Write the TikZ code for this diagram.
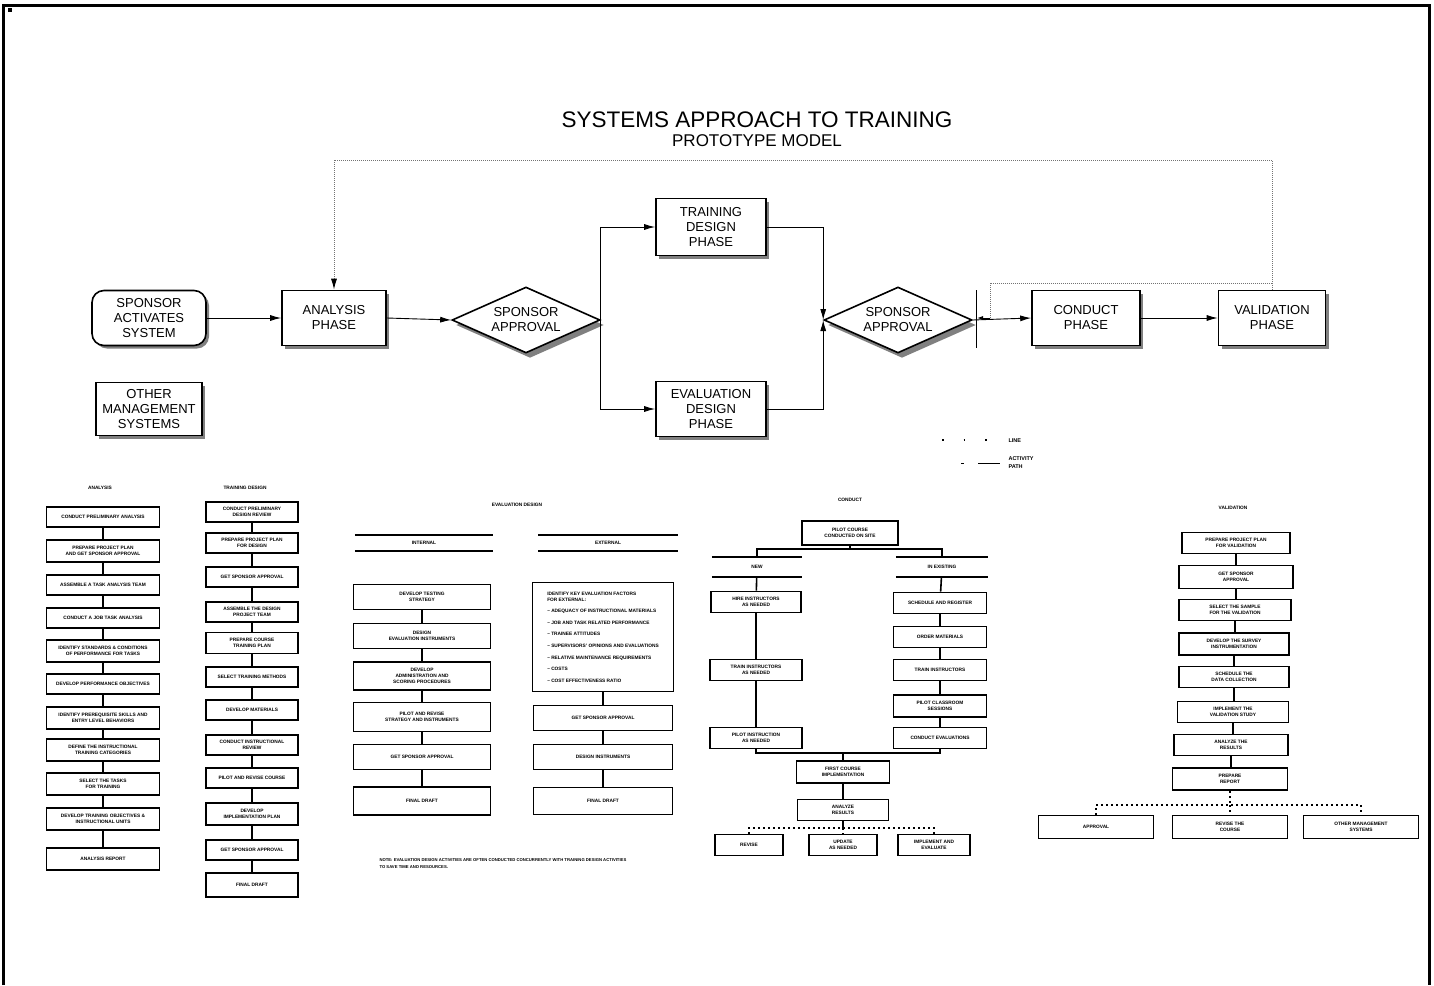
\documentclass[tikz,border=0pt]{standalone}
\usepackage{fontspec}
\setmainfont{Liberation Sans}
\usetikzlibrary{shapes.geometric,shadows,arrows.meta}
\tikzset{>={Latex[length=11pt,width=6pt]}}
\tikzset{
  phasebox/.style={draw,line width=1.6pt,fill=white,align=center,inner sep=2pt,
    font=\fontsize{13}{15}\selectfont,
    drop shadow={shadow xshift=3pt,shadow yshift=-3pt,opacity=1}},
  startbox/.style={phasebox,rounded corners=12pt},
  approval/.style={diamond,draw,line width=1.6pt,fill=white,align=center,inner sep=0pt,
    aspect=2.2,minimum width=148pt,minimum height=66pt,
    font=\fontsize{13}{15}\selectfont,
    drop shadow={shadow xshift=4pt,shadow yshift=-5pt,opacity=1}},
  flowline/.style={line width=0.9pt},
  fbline/.style={line width=1pt,black!55,densely dotted},
  stepbox/.style={draw,line width=1.7pt,fill=white,align=center,inner sep=1pt,
    font=\fontsize{4.8}{5.8}\selectfont\bfseries},
  stepline/.style={line width=1.6pt},
  steptitle/.style={font=\fontsize{4.8}{5.8}\selectfont\bfseries},
  stephead/.style={steptitle,minimum height=16pt},
  dashline/.style={line width=1.3pt,dash pattern=on 2pt off 3pt},
  legtext/.style={font=\fontsize{5.5}{8}\selectfont\bfseries,align=left,anchor=west}
}

\begin{document}
\begin{tikzpicture}[x=1pt,y=-1pt]
            \useasboundingbox (0,0) rectangle (1434,985);
            \draw[line width=3pt] (3.5,985) -- (3.5,5.5) -- (1429,5.5) -- (1429,985);
            \fill (8,8) rectangle (12,12);

            \node[font=\fontsize{22.5}{26}\selectfont] (title) at (757,120) {SYSTEMS APPROACH TO TRAINING};
            \node[font=\fontsize{17}{20}\selectfont] (subtitle) at (757,141) {PROTOTYPE MODEL};

            \node[startbox,minimum width=114,minimum height=55] (sponsor) at (149,318) {SPONSOR\\ACTIVATES\\SYSTEM};
            \node[phasebox,minimum width=104,minimum height=55] (analysis) at (334,318) {ANALYSIS\\PHASE};
            \node[approval] (approveA) at (526,320) {SPONSOR\\APPROVAL};
            \node[phasebox,minimum width=110,minimum height=57] (trdesign) at (711,227) {TRAINING\\DESIGN\\PHASE};
            \node[phasebox,minimum width=110,minimum height=55] (evdesign) at (711,409) {EVALUATION\\DESIGN\\PHASE};
            \node[approval] (approveB) at (898,320) {SPONSOR\\APPROVAL};
            \node[phasebox,minimum width=108,minimum height=55] (conduct) at (1086,318) {CONDUCT\\PHASE};
            \node[phasebox,minimum width=107,minimum height=55] (validation) at (1272,318) {VALIDATION\\PHASE};
            \node[phasebox,minimum width=106,minimum height=53] (othermgmt) at (149,409) {OTHER\\MANAGEMENT\\SYSTEMS};

            \coordinate (fbtop) at (0,160);
            \coordinate (fbjoin) at (1272,283);
            \coordinate (fbreturn) at (990,318);
            \coordinate (gateT) at (976,290);
            \coordinate (gateB) at (976,348);
            \coordinate (gateM) at (977,318);

            \draw[flowline,->] (sponsor) -- (analysis);
            \draw[flowline,->] (analysis.east) -- (approveA.west);
            \draw[flowline,->] (approveA.east) |- (trdesign.west);
            \draw[flowline,->] (approveA.east) |- (evdesign.west);
            \draw[flowline,->] (trdesign.east) -| (approveB.west);
            \draw[flowline,->] (evdesign.east) -| (approveB.west);
            \draw[flowline] (gateT) -- (gateB);
            \draw[flowline,->] (approveB.east) -- (conduct.west);
            \draw[flowline,->] (conduct) -- (validation);
            \draw[fbline,-{Latex[length=11pt,width=6pt,color=black]}] (validation.north) -- (validation.north |- fbtop) -| (analysis.north);
            \draw[fbline] (fbjoin) -| (fbreturn);
            \draw[flowline,-{Latex[length=6pt,width=4pt]}] (fbreturn) -- (gateM);

            \draw[line width=1.2pt,dash pattern=on 1.5pt off 20pt] (942,440) -- (990,440);
            \node[legtext] (legline) at (1005,441) {LINE};
            \draw[line width=1pt] (961,463) -- (964,463);
            \draw[line width=1pt] (978,463) -- (1000,463);
            \node[legtext] (legpath) at (1005,463) {ACTIVITY\\PATH};

            \node[steptitle] (anltitle) at (100,488) {ANALYSIS};
            \node[stepbox,minimum width=113,minimum height=20] (a1) at (103,517) {CONDUCT PRELIMINARY ANALYSIS};
            \node[stepbox,minimum width=113,minimum height=22] (a2) at (103,551) {PREPARE PROJECT PLAN\\AND GET SPONSOR APPROVAL};
            \node[stepbox,minimum width=113,minimum height=20] (a3) at (103,585) {ASSEMBLE A TASK ANALYSIS TEAM};
            \node[stepbox,minimum width=113,minimum height=20] (a4) at (103,618) {CONDUCT A JOB TASK ANALYSIS};
            \node[stepbox,minimum width=113,minimum height=22] (a5) at (103,651) {IDENTIFY STANDARDS \& CONDITIONS\\OF PERFORMANCE FOR TASKS};
            \node[stepbox,minimum width=113,minimum height=20] (a6) at (103,684) {DEVELOP PERFORMANCE OBJECTIVES};
            \node[stepbox,minimum width=113,minimum height=22] (a7) at (103,718) {IDENTIFY PREREQUISITE SKILLS AND\\ENTRY LEVEL BEHAVIORS};
            \node[stepbox,minimum width=113,minimum height=22] (a8) at (103,750) {DEFINE THE INSTRUCTIONAL\\TRAINING CATEGORIES};
            \node[stepbox,minimum width=113,minimum height=22] (a9) at (103,784) {SELECT THE TASKS\\FOR TRAINING};
            \node[stepbox,minimum width=113,minimum height=22] (a10) at (103,819) {DEVELOP TRAINING OBJECTIVES \&\\INSTRUCTIONAL UNITS};
            \node[stepbox,minimum width=113,minimum height=22] (a11) at (103,859) {ANALYSIS REPORT};

            \draw[stepline] (a1) -- (a2);
            \draw[stepline] (a2) -- (a3);
            \draw[stepline] (a3) -- (a4);
            \draw[stepline] (a4) -- (a5);
            \draw[stepline] (a5) -- (a6);
            \draw[stepline] (a6) -- (a7);
            \draw[stepline] (a7) -- (a8);
            \draw[stepline] (a8) -- (a9);
            \draw[stepline] (a9) -- (a10);
            \draw[stepline] (a10) -- (a11);

            \node[steptitle] (trntitle) at (245,488) {TRAINING DESIGN};
            \node[stepbox,minimum width=92,minimum height=20] (t1) at (252,512) {CONDUCT PRELIMINARY\\DESIGN REVIEW};
            \node[stepbox,minimum width=92,minimum height=20] (t2) at (252,543) {PREPARE PROJECT PLAN\\FOR DESIGN};
            \node[stepbox,minimum width=92,minimum height=20] (t3) at (252,577) {GET SPONSOR APPROVAL};
            \node[stepbox,minimum width=92,minimum height=20] (t4) at (252,612) {ASSEMBLE THE DESIGN\\PROJECT TEAM};
            \node[stepbox,minimum width=92,minimum height=21] (t5) at (252,643) {PREPARE COURSE\\TRAINING PLAN};
            \node[stepbox,minimum width=92,minimum height=20] (t6) at (252,677) {SELECT TRAINING METHODS};
            \node[stepbox,minimum width=92,minimum height=20] (t7) at (252,710) {DEVELOP MATERIALS};
            \node[stepbox,minimum width=92,minimum height=20] (t8) at (252,745) {CONDUCT INSTRUCTIONAL\\REVIEW};
            \node[stepbox,minimum width=92,minimum height=20] (t9) at (252,778) {PILOT AND REVISE COURSE};
            \node[stepbox,minimum width=92,minimum height=22] (t10) at (252,814) {DEVELOP\\IMPLEMENTATION PLAN};
            \node[stepbox,minimum width=92,minimum height=20] (t11) at (252,850) {GET SPONSOR APPROVAL};
            \node[stepbox,minimum width=92,minimum height=24] (t12) at (252,885) {FINAL DRAFT};

            \draw[stepline] (t1) -- (t2);
            \draw[stepline] (t2) -- (t3);
            \draw[stepline] (t3) -- (t4);
            \draw[stepline] (t4) -- (t5);
            \draw[stepline] (t5) -- (t6);
            \draw[stepline] (t6) -- (t7);
            \draw[stepline] (t7) -- (t8);
            \draw[stepline] (t8) -- (t9);
            \draw[stepline] (t9) -- (t10);
            \draw[stepline] (t10) -- (t11);
            \draw[stepline] (t11) -- (t12);

            \node[steptitle] (evltitle) at (517,505) {EVALUATION DESIGN};
            \node[stephead,minimum width=138] (inthead) at (424,543) {INTERNAL};
            \draw[stepline] (inthead.north west) -- (inthead.north east);
            \draw[stepline] (inthead.south west) -- (inthead.south east);
            \node[stephead,minimum width=139] (exthead) at (608,543) {EXTERNAL};
            \draw[stepline] (exthead.north west) -- (exthead.north east);
            \draw[stepline] (exthead.south west) -- (exthead.south east);

            \node[stepbox,minimum width=137,minimum height=25] (e1) at (422,597) {DEVELOP TESTING\\STRATEGY};
            \node[stepbox,minimum width=137,minimum height=25] (e2) at (422,636) {DESIGN\\EVALUATION INSTRUMENTS};
            \node[stepbox,minimum width=137,minimum height=28] (e3) at (422,676) {DEVELOP\\ADMINISTRATION AND\\SCORING PROCEDURES};
            \node[stepbox,minimum width=137,minimum height=29] (e4) at (422,717) {PILOT AND REVISE\\STRATEGY AND INSTRUMENTS};
            \node[stepbox,minimum width=137,minimum height=25] (e5) at (422,757) {GET SPONSOR APPROVAL};
            \node[stepbox,minimum width=137,minimum height=28] (e6) at (422,801) {FINAL DRAFT};

            \draw[stepline] (e1) -- (e2);
            \draw[stepline] (e2) -- (e3);
            \draw[stepline] (e3) -- (e4);
            \draw[stepline] (e4) -- (e5);
            \draw[stepline] (e5) -- (e6);

            \node[stepbox,minimum width=141,minimum height=109,align=left,inner sep=5pt,
                  font=\fontsize{4.8}{11.6}\selectfont\bfseries] (x1) at (603,637)
                  {IDENTIFY KEY EVALUATION FACTORS\\[-5.5pt] FOR EXTERNAL:\\
                   -- ADEQUACY OF INSTRUCTIONAL MATERIALS\\
                   -- JOB AND TASK RELATED PERFORMANCE\\
                   -- TRAINEE ATTITUDES\\
                   -- SUPERVISORS' OPINIONS AND EVALUATIONS\\
                   -- RELATIVE MAINTENANCE REQUIREMENTS\\
                   -- COSTS\\
                   -- COST EFFECTIVENESS RATIO};
            \node[stepbox,minimum width=139,minimum height=25] (x2) at (603,718) {GET SPONSOR APPROVAL};
            \node[stepbox,minimum width=139,minimum height=25] (x3) at (603,757) {DESIGN INSTRUMENTS};
            \node[stepbox,minimum width=139,minimum height=27] (x4) at (603,801) {FINAL DRAFT};

            \draw[stepline] (x1) -- (x2);
            \draw[stepline] (x2) -- (x3);
            \draw[stepline] (x3) -- (x4);

            \node[steptitle,anchor=west,align=left,font=\fontsize{4.2}{7}\selectfont\bfseries] (evlnote) at (376,864)
                  {NOTE: EVALUATION DESIGN ACTIVITIES ARE OFTEN CONDUCTED CONCURRENTLY WITH TRAINING DESIGN ACTIVITIES\\
                   TO SAVE TIME AND RESOURCES.};

            \node[steptitle] (cndtitle) at (850,500) {CONDUCT};
            \node[stepbox,minimum width=96,minimum height=24] (c1) at (850,533) {PILOT COURSE\\CONDUCTED ON SITE};
            \node[stephead,minimum width=90,minimum height=20] (newhead) at (757,567) {NEW};
            \draw[stepline] (newhead.north west) -- (newhead.north east);
            \draw[stepline] (newhead.south west) -- (newhead.south east);
            \node[stephead,minimum width=92,minimum height=20] (oldhead) at (942,567) {IN EXISTING};
            \draw[stepline] (oldhead.north west) -- (oldhead.north east);
            \draw[stepline] (oldhead.south west) -- (oldhead.south east);
            \coordinate (cfork) at (850,549);
            \draw[stepline] (c1.south) -- (cfork);
            \draw[stepline] (newhead.north) |- (cfork) -| (oldhead.north);

            \node[stepbox,minimum width=90,minimum height=21] (l1) at (756,602) {HIRE INSTRUCTORS\\AS NEEDED};
            \node[stepbox,minimum width=92,minimum height=21] (l2) at (756,670) {TRAIN INSTRUCTORS\\AS NEEDED};
            \node[stepbox,minimum width=92,minimum height=21] (l3) at (756,738) {PILOT INSTRUCTION\\AS NEEDED};
            \draw[stepline] (newhead) -- (l1);
            \draw[stepline] (l1) -- (l2);
            \draw[stepline] (l2) -- (l3);

            \node[stepbox,minimum width=93,minimum height=21] (r1) at (940,603) {SCHEDULE AND REGISTER};
            \node[stepbox,minimum width=93,minimum height=21] (r2) at (940,637) {ORDER MATERIALS};
            \node[stepbox,minimum width=93,minimum height=21] (r3) at (940,670) {TRAIN INSTRUCTORS};
            \node[stepbox,minimum width=93,minimum height=22] (r4) at (940,706) {PILOT CLASSROOM\\SESSIONS};
            \node[stepbox,minimum width=93,minimum height=21] (r5) at (940,738) {CONDUCT EVALUATIONS};
            \draw[stepline] (oldhead) -- (r1);
            \draw[stepline] (r1) -- (r2);
            \draw[stepline] (r2) -- (r3);
            \draw[stepline] (r3) -- (r4);
            \draw[stepline] (r4) -- (r5);

            \coordinate (cjoin) at (843,753);
            \draw[stepline] (l3.south) |- (cjoin) -| (r5.south);
            \node[stepbox,minimum width=93,minimum height=22] (c2) at (843,772) {FIRST COURSE\\IMPLEMENTATION};
            \node[stepbox,minimum width=91,minimum height=21] (c3) at (843,810) {ANALYZE\\RESULTS};
            \draw[stepline] (cjoin) -- (c2.north);
            \draw[stepline] (c2) -- (c3);

            \coordinate (cfork2) at (843,828);
            \node[stepbox,minimum width=68,minimum height=21] (b1) at (749,845) {REVISE};
            \node[stepbox,minimum width=68,minimum height=21] (b2) at (843,845) {UPDATE\\AS NEEDED};
            \node[stepbox,minimum width=72,minimum height=21] (b3) at (934,845) {IMPLEMENT AND\\EVALUATE};
            \draw[stepline] (c3.south) -- (cfork2);
            \draw[dashline] (b1.north) |- (cfork2) -| (b3.north);
            \draw[dashline] (cfork2) -- (b2.north);

            \node[steptitle] (vldtitle) at (1233,508) {VALIDATION};
            \node[stepbox,minimum width=108,minimum height=21] (v1) at (1236,543) {PREPARE PROJECT PLAN\\FOR VALIDATION};
            \node[stepbox,minimum width=114,minimum height=23] (v2) at (1236,577) {GET SPONSOR\\APPROVAL};
            \node[stepbox,minimum width=112,minimum height=21] (v3) at (1235,610) {SELECT THE SAMPLE\\FOR THE VALIDATION};
            \node[stepbox,minimum width=110,minimum height=22] (v4) at (1234,644) {DEVELOP THE SURVEY\\INSTRUMENTATION};
            \node[stepbox,minimum width=110,minimum height=21] (v5) at (1234,677) {SCHEDULE THE\\DATA COLLECTION};
            \node[stepbox,minimum width=111,minimum height=21] (v6) at (1233,712) {IMPLEMENT THE\\VALIDATION STUDY};
            \node[stepbox,minimum width=114,minimum height=21] (v7) at (1231,745) {ANALYZE THE\\RESULTS};
            \node[stepbox,minimum width=115,minimum height=22] (v8) at (1230,779) {PREPARE\\REPORT};

            \draw[stepline] (v1.south) -- (v1.south |- v2.north);
            \draw[stepline] (v2.south) -- (v2.south |- v3.north);
            \draw[stepline] (v3.south) -- (v3.south |- v4.north);
            \draw[stepline] (v4.south) -- (v4.south |- v5.north);
            \draw[stepline] (v5.south) -- (v5.south |- v6.north);
            \draw[stepline] (v6.south) -- (v6.south |- v7.north);
            \draw[stepline] (v7.south) -- (v7.south |- v8.north);

            \coordinate (vfork) at (1230,805);
            \node[stepbox,minimum width=115,minimum height=23] (w1) at (1096,827) {APPROVAL};
            \node[stepbox,minimum width=115,minimum height=23] (w2) at (1230,827) {REVISE THE\\COURSE};
            \node[stepbox,minimum width=115,minimum height=23] (w3) at (1361,827) {OTHER MANAGEMENT\\SYSTEMS};
            \draw[dashline] (v8.south) -- (vfork);
            \draw[dashline] (w1.north) |- (vfork) -| (w3.north);
            \draw[dashline] (vfork) -- (w2.north);
\end{tikzpicture}
\end{document}
